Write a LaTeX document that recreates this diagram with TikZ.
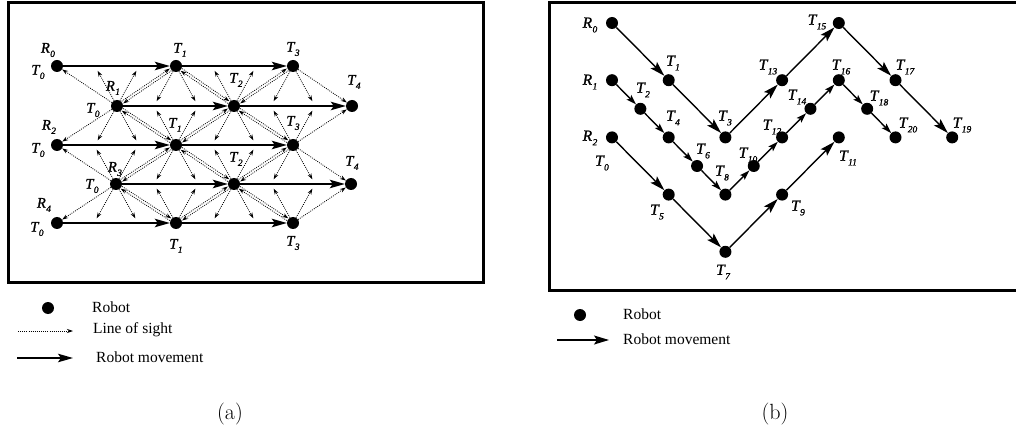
\documentclass[tikz,border=0pt]{standalone}
\usepackage{fontspec}
\newfontfamily\tnr{Liberation Serif}
\newfontface\tnri[FakeBold=1.2]{Liberation Serif Italic}
\usetikzlibrary{arrows.meta,calc}
\newcommand{\sub}[1]{\kern0.4pt\raisebox{-0.3em}{\fontsize{9.5}{9.5}\selectfont#1}}
\tikzset{
  robot/.style={circle, fill=black, inner sep=0pt, minimum size=12pt},
  lab/.style={inner sep=0pt, font=\tnri\fontsize{14.5}{14.5}\selectfont},
  labb/.style={inner sep=0pt, font=\tnri\fontsize{15.5}{15.5}\selectfont},
  legtext/.style={inner sep=0pt, anchor=west, font=\tnr\fontsize{15.5}{15.5}\selectfont},
  captext/.style={inner sep=0pt, font=\fontsize{22}{22}\selectfont},
  frame/.style={line width=3pt},
  move/.style={line width=1.5pt, -{Stealth[length=15pt,width=8.5pt,inset=3pt]}},
  bmove/.style={line width=1.4pt, -{Stealth[length=15pt,width=9pt,inset=3pt]}},
  bmoves/.style={line width=1.4pt, -{Stealth[length=10pt,width=6.5pt,inset=2pt]}},
  los/.style={line width=0.8pt, dash pattern=on 0.9pt off 1.2pt, -{Stealth[length=6pt,width=4pt]}},
}
\begin{document}
\begin{tikzpicture}[x=1pt,y=-1pt]
\useasboundingbox (0,0) rectangle (1016,430);
% ---------------- panel (a) ----------------
\draw[frame] (8,3) rectangle (483,282);
\foreach \n/\x/\y in {a10/57/66, a12/176/66, a14/293/66,
  a21/117/106, a23/234/106, a25/352/106,
  a30/57/145, a32/176/145, a34/293/145,
  a41/116/184, a43/234/184, a45/351/184,
  a50/57/223, a52/176/223, a54/293/223}
  \node[robot] (\n) at (\x,\y) {};
\foreach \a/\b in {a10/a12, a12/a14, a21/a23, a23/a25, a30/a32, a32/a34,
  a41/a43, a43/a45, a50/a52, a52/a54}
  \draw[move] (\a) -- (\b);
% double lines of sight
\foreach \a/\b in {a12/a21, a12/a23, a14/a23, a21/a32, a23/a32, a23/a34,
  a32/a41, a32/a43, a34/a43, a41/a52, a43/a52, a43/a54} {
  \draw[los, shorten <=6.5pt, shorten >=6.5pt] ($(\a)!1.3pt!90:(\b)$) -- ($(\b)!1.3pt!-90:(\a)$);
  \draw[los, shorten <=6.5pt, shorten >=6.5pt] ($(\b)!1.3pt!90:(\a)$) -- ($(\a)!1.3pt!-90:(\b)$);
}
% single lines of sight between nodes
\foreach \a/\b in {a21/a10, a14/a25, a21/a30, a34/a25, a41/a30, a34/a45, a41/a50, a54/a45}
  \draw[los] (\a) -- (\b);
% single lines of sight towards neighbouring paths
\foreach \n/\x/\y/\yy in {a12/176/66/106, a14/293/66/106,
  a21/117/106/66, a21/117/106/145, a23/234/106/66, a23/234/106/145,
  a32/176/145/106, a32/176/145/184, a34/293/145/106, a34/293/145/184,
  a41/116/184/145, a41/116/184/223, a43/234/184/145, a43/234/184/223,
  a52/176/223/184, a54/293/223/184} {
  \coordinate (\n-\yy-l) at ($(\x,\y)!0.88!({\x-22},\yy)$);
  \coordinate (\n-\yy-r) at ($(\x,\y)!0.88!({\x+22},\yy)$);
  \draw[los] (\n) -- (\n-\yy-l);
  \draw[los] (\n) -- (\n-\yy-r);
}
% labels (a)
\node[lab] (la10r) at (48,50) {R\sub{0}};
\node[lab] (la10t) at (38,72) {T\sub{0}};
\node[lab] (la12) at (180,50) {T\sub{1}};
\node[lab] (la14) at (293,49) {T\sub{3}};
\node[lab] (la21r) at (113,88) {R\sub{1}};
\node[lab] (la21t) at (93,110) {T\sub{0}};
\node[lab] (la23) at (236,80) {T\sub{2}};
\node[lab] (la25) at (354,82) {T\sub{4}};
\node[lab] (la30r) at (49,127) {R\sub{2}};
\node[lab] (la30t) at (38,150) {T\sub{0}};
\node[lab] (la32) at (175,125) {T\sub{1}};
\node[lab] (la34) at (293,123) {T\sub{3}};
\node[lab] (la41r) at (115,169) {R\sub{3}};
\node[lab] (la41t) at (92,186) {T\sub{0}};
\node[lab] (la43) at (236,159) {T\sub{2}};
\node[lab] (la45) at (352,163) {T\sub{4}};
\node[lab] (la50r) at (44,205) {R\sub{4}};
\node[lab] (la50t) at (37,229) {T\sub{0}};
\node[lab] (la52) at (176,246) {T\sub{1}};
\node[lab] (la54) at (293,243) {T\sub{3}};
% legend (a)
\node[robot] (lga1) at (48,308) {};
\node[legtext] (lga1t) at (92,307) {Robot};
\coordinate (lga2s) at (18,331);
\coordinate (lga2e) at (73,331);
\draw[los] (lga2s) -- (lga2e);
\node[legtext] (lga2t) at (93,330) {Line of sight};
\coordinate (lga3s) at (17,358);
\coordinate (lga3e) at (73,358);
\draw[move] (lga3s) -- (lga3e);
\node[legtext] (lga3t) at (96,357) {Robot movement};
\node[captext] (capa) at (230,414) {(a)};
% ---------------- panel (b) ----------------
\draw[frame] (1020,3) -- (549,3) -- (549,290) -- (1020,290);
\foreach \n/\i/\j in {R0/0/0, T1/2/2, T3/4/4, T13/6/2, T15/8/0, T17/10/2, T19/12/4,
  R1/0/2, T2/1/3, T4/2/4, T6/3/5, T8/4/6, T10/5/5, T12/6/4, T14/7/3, T16/8/2, T18/9/3, T20/10/4,
  R2/0/4, T5/2/6, T7/4/8, T9/6/6, T11/8/4}
  \node[robot] (b\n) at ({612+28.35*\i},{23+28.6*\j}) {};
\foreach \a/\b in {R0/T1, T1/T3, T3/T13, T13/T15, T15/T17, T17/T19,
  R2/T5, T5/T7, T7/T9, T9/T11}
  \draw[bmove] (b\a) -- (b\b);
\foreach \a/\b in {R1/T2, T2/T4, T4/T6, T6/T8, T8/T10, T10/T12, T12/T14, T14/T16, T16/T18, T18/T20}
  \draw[bmoves] (b\a) -- (b\b);
% labels (b)
\node[labb] (lbR0) at (590,25) {R\sub{0}};
\node[labb] (lbR1) at (590,82) {R\sub{1}};
\node[labb] (lbR2) at (590,138) {R\sub{2}};
\node[labb] (lbT0) at (602,163) {T\sub{0}};
\node[labb] (lbT1) at (673,63) {T\sub{1}};
\node[labb] (lbT2) at (643,90) {T\sub{2}};
\node[labb] (lbT3) at (725,118) {T\sub{3}};
\node[labb] (lbT4) at (673,118) {T\sub{4}};
\node[labb] (lbT5) at (657,212) {T\sub{5}};
\node[labb] (lbT6) at (703,151) {T\sub{6}};
\node[labb] (lbT7) at (723,272) {T\sub{7}};
\node[labb] (lbT8) at (722,173) {T\sub{8}};
\node[labb] (lbT9) at (798,208) {T\sub{9}};
\node[labb] (lbT10) at (748,155) {T\sub{10}};
\node[labb] (lbT11) at (848,158) {T\sub{11}};
\node[labb] (lbT12) at (772,127) {T\sub{12}};
\node[labb] (lbT13) at (768,67) {T\sub{13}};
\node[labb] (lbT14) at (797,97) {T\sub{14}};
\node[labb] (lbT15) at (817,22) {T\sub{15}};
\node[labb] (lbT16) at (841,67) {T\sub{16}};
\node[labb] (lbT17) at (905,67) {T\sub{17}};
\node[labb] (lbT18) at (879,98) {T\sub{18}};
\node[labb] (lbT19) at (962,125) {T\sub{19}};
\node[labb] (lbT20) at (908,125) {T\sub{20}};
% legend (b)
\node[robot] (lgb1) at (580,315) {};
\node[legtext] (lgb1t) at (623,314) {Robot};
\coordinate (lgb2s) at (557,340);
\coordinate (lgb2e) at (609,340);
\draw[bmove] (lgb2s) -- (lgb2e);
\node[legtext] (lgb2t) at (623,339) {Robot movement};
\node[captext] (capb) at (775,414) {(b)};
\end{tikzpicture}
\end{document}
